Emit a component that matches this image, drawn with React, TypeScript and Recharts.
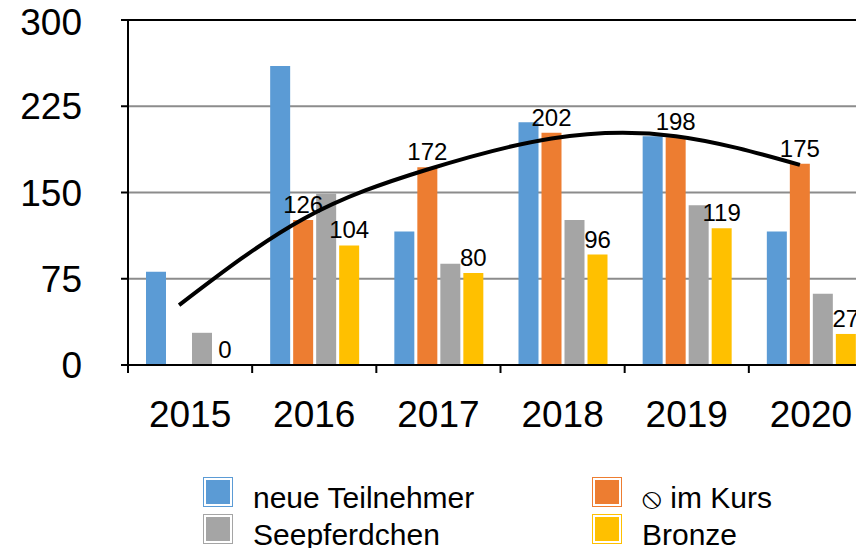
import {
  Bar,
  CartesianGrid,
  ComposedChart,
  LabelList,
  Line,
  ReferenceLine,
  XAxis,
  YAxis,
} from "recharts";

const years = ["2015", "2016", "2017", "2018", "2019", "2020"];
const neueTeilnehmer = [81, 260, 116, 211, 199, 116];
const imKurs = [null, 126, 172, 202, 198, 175];
const seepferdchen = [28, 149, 88, 126, 139, 62];
const bronze = [0, 104, 80, 96, 119, 27];
// polynomial trend of "im Kurs"
const trend = [52, 127, 170, 197, 199, 174];
const yTicks = [0, 75, 150, 225, 300];

const BLUE = "#5B9BD5";
const ORANGE = "#ED7D31";
const GRAY = "#A5A5A5";
const YELLOW = "#FFC000";
const FONT = '"Liberation Sans", Arial, Helvetica, sans-serif';

const W = 880;
const H = 548;
const PLOT_LEFT = 128;
const PLOT_RIGHT = 7;
const PLOT_TOP = 20;
const PLOT_BOTTOM = 365;
const BAND = (W - PLOT_LEFT - PLOT_RIGHT) / years.length;

const data = years.map((year, i) => ({
  year,
  neu: neueTeilnehmer[i],
  kurs: imKurs[i],
  seep: seepferdchen[i],
  bronze: bronze[i],
  trend: trend[i],
}));

const legend = [
  { name: "neue Teilnehmer", color: BLUE },
  { name: "⦸ im Kurs", color: ORANGE },
  { name: "Seepferdchen", color: GRAY },
  { name: "Bronze", color: YELLOW },
];

function XTick(props: any) {
  const { x, payload } = props;
  const edge = x - BAND / 2;
  return (
    <g>
      <line x1={edge} x2={edge} y1={PLOT_BOTTOM} y2={PLOT_BOTTOM + 8} stroke="#000" strokeWidth={2} />
      <text x={x} y={427} textAnchor="middle" fontSize={37} fontFamily={FONT} fill="#000">
        {payload.value}
      </text>
    </g>
  );
}

export default function App() {
  return (
    <div style={{ position: "relative", width: 856, height: 548, overflow: "hidden", background: "#fff" }}>
      <style>{"body{margin:0}"}</style>
      <ComposedChart
        width={W}
        height={H}
        data={data}
        margin={{ top: PLOT_TOP, right: PLOT_RIGHT, left: 0, bottom: 0 }}
        barCategoryGap={18}
        barGap={3}
      >
        <CartesianGrid vertical={false} stroke="#8c8c8c" strokeWidth={2} />
        <XAxis
          dataKey="year"
          height={H - PLOT_BOTTOM}
          axisLine={{ stroke: "#000", strokeWidth: 2 }}
          tickLine={false}
          tick={<XTick />}
          interval={0}
        />
        <XAxis xAxisId="trend" dataKey="year" hide height={0} padding={{ left: -11, right: 11 }} />
        <YAxis
          width={PLOT_LEFT}
          domain={[0, 300]}
          ticks={yTicks}
          axisLine={{ stroke: "#000", strokeWidth: 2 }}
          tickLine={{ stroke: "#000", strokeWidth: 2 }}
          tickSize={7}
          tickMargin={39}
          tick={{ fontSize: 37, fontFamily: FONT, fill: "#000" }}
        />
        <ReferenceLine y={300} stroke="#000" strokeWidth={2} />
        <Bar dataKey="neu" fill={BLUE} isAnimationActive={false} />
        <Bar dataKey="kurs" fill={ORANGE} isAnimationActive={false}>
          <LabelList dataKey="kurs" position="top" offset={7} fontSize={24} fontFamily={FONT} fill="#000" />
        </Bar>
        <Bar dataKey="seep" fill={GRAY} isAnimationActive={false} />
        <Bar dataKey="bronze" fill={YELLOW} minPointSize={0.1} isAnimationActive={false}>
          <LabelList dataKey="bronze" position="top" offset={7} fontSize={24} fontFamily={FONT} fill="#000" />
        </Bar>
        <Line
          xAxisId="trend"
          dataKey="trend"
          type="natural"
          stroke="#000"
          strokeWidth={4}
          dot={false}
          activeDot={false}
          isAnimationActive={false}
        />
      </ComposedChart>
      {legend.map((item, i) => {
        const col = i % 2;
        const row = Math.floor(i / 2);
        const sqX = col === 0 ? 203 : 592;
        const sqY = row === 0 ? 477 : 514;
        return (
          <div key={item.name}>
            <div
              style={{
                position: "absolute",
                left: sqX,
                top: sqY,
                width: 30,
                height: 30,
                boxSizing: "border-box",
                border: `1.5px solid ${item.color}`,
                padding: 2,
                backgroundColor: item.color,
                backgroundClip: "content-box",
              }}
            />
            <div
              style={{
                position: "absolute",
                left: sqX + 50,
                top: sqY + 6,
                fontSize: 30,
                lineHeight: "30px",
                fontFamily: FONT,
                color: "#000",
                whiteSpace: "nowrap",
              }}
            >
              {item.name}
            </div>
          </div>
        );
      })}
    </div>
  );
}
